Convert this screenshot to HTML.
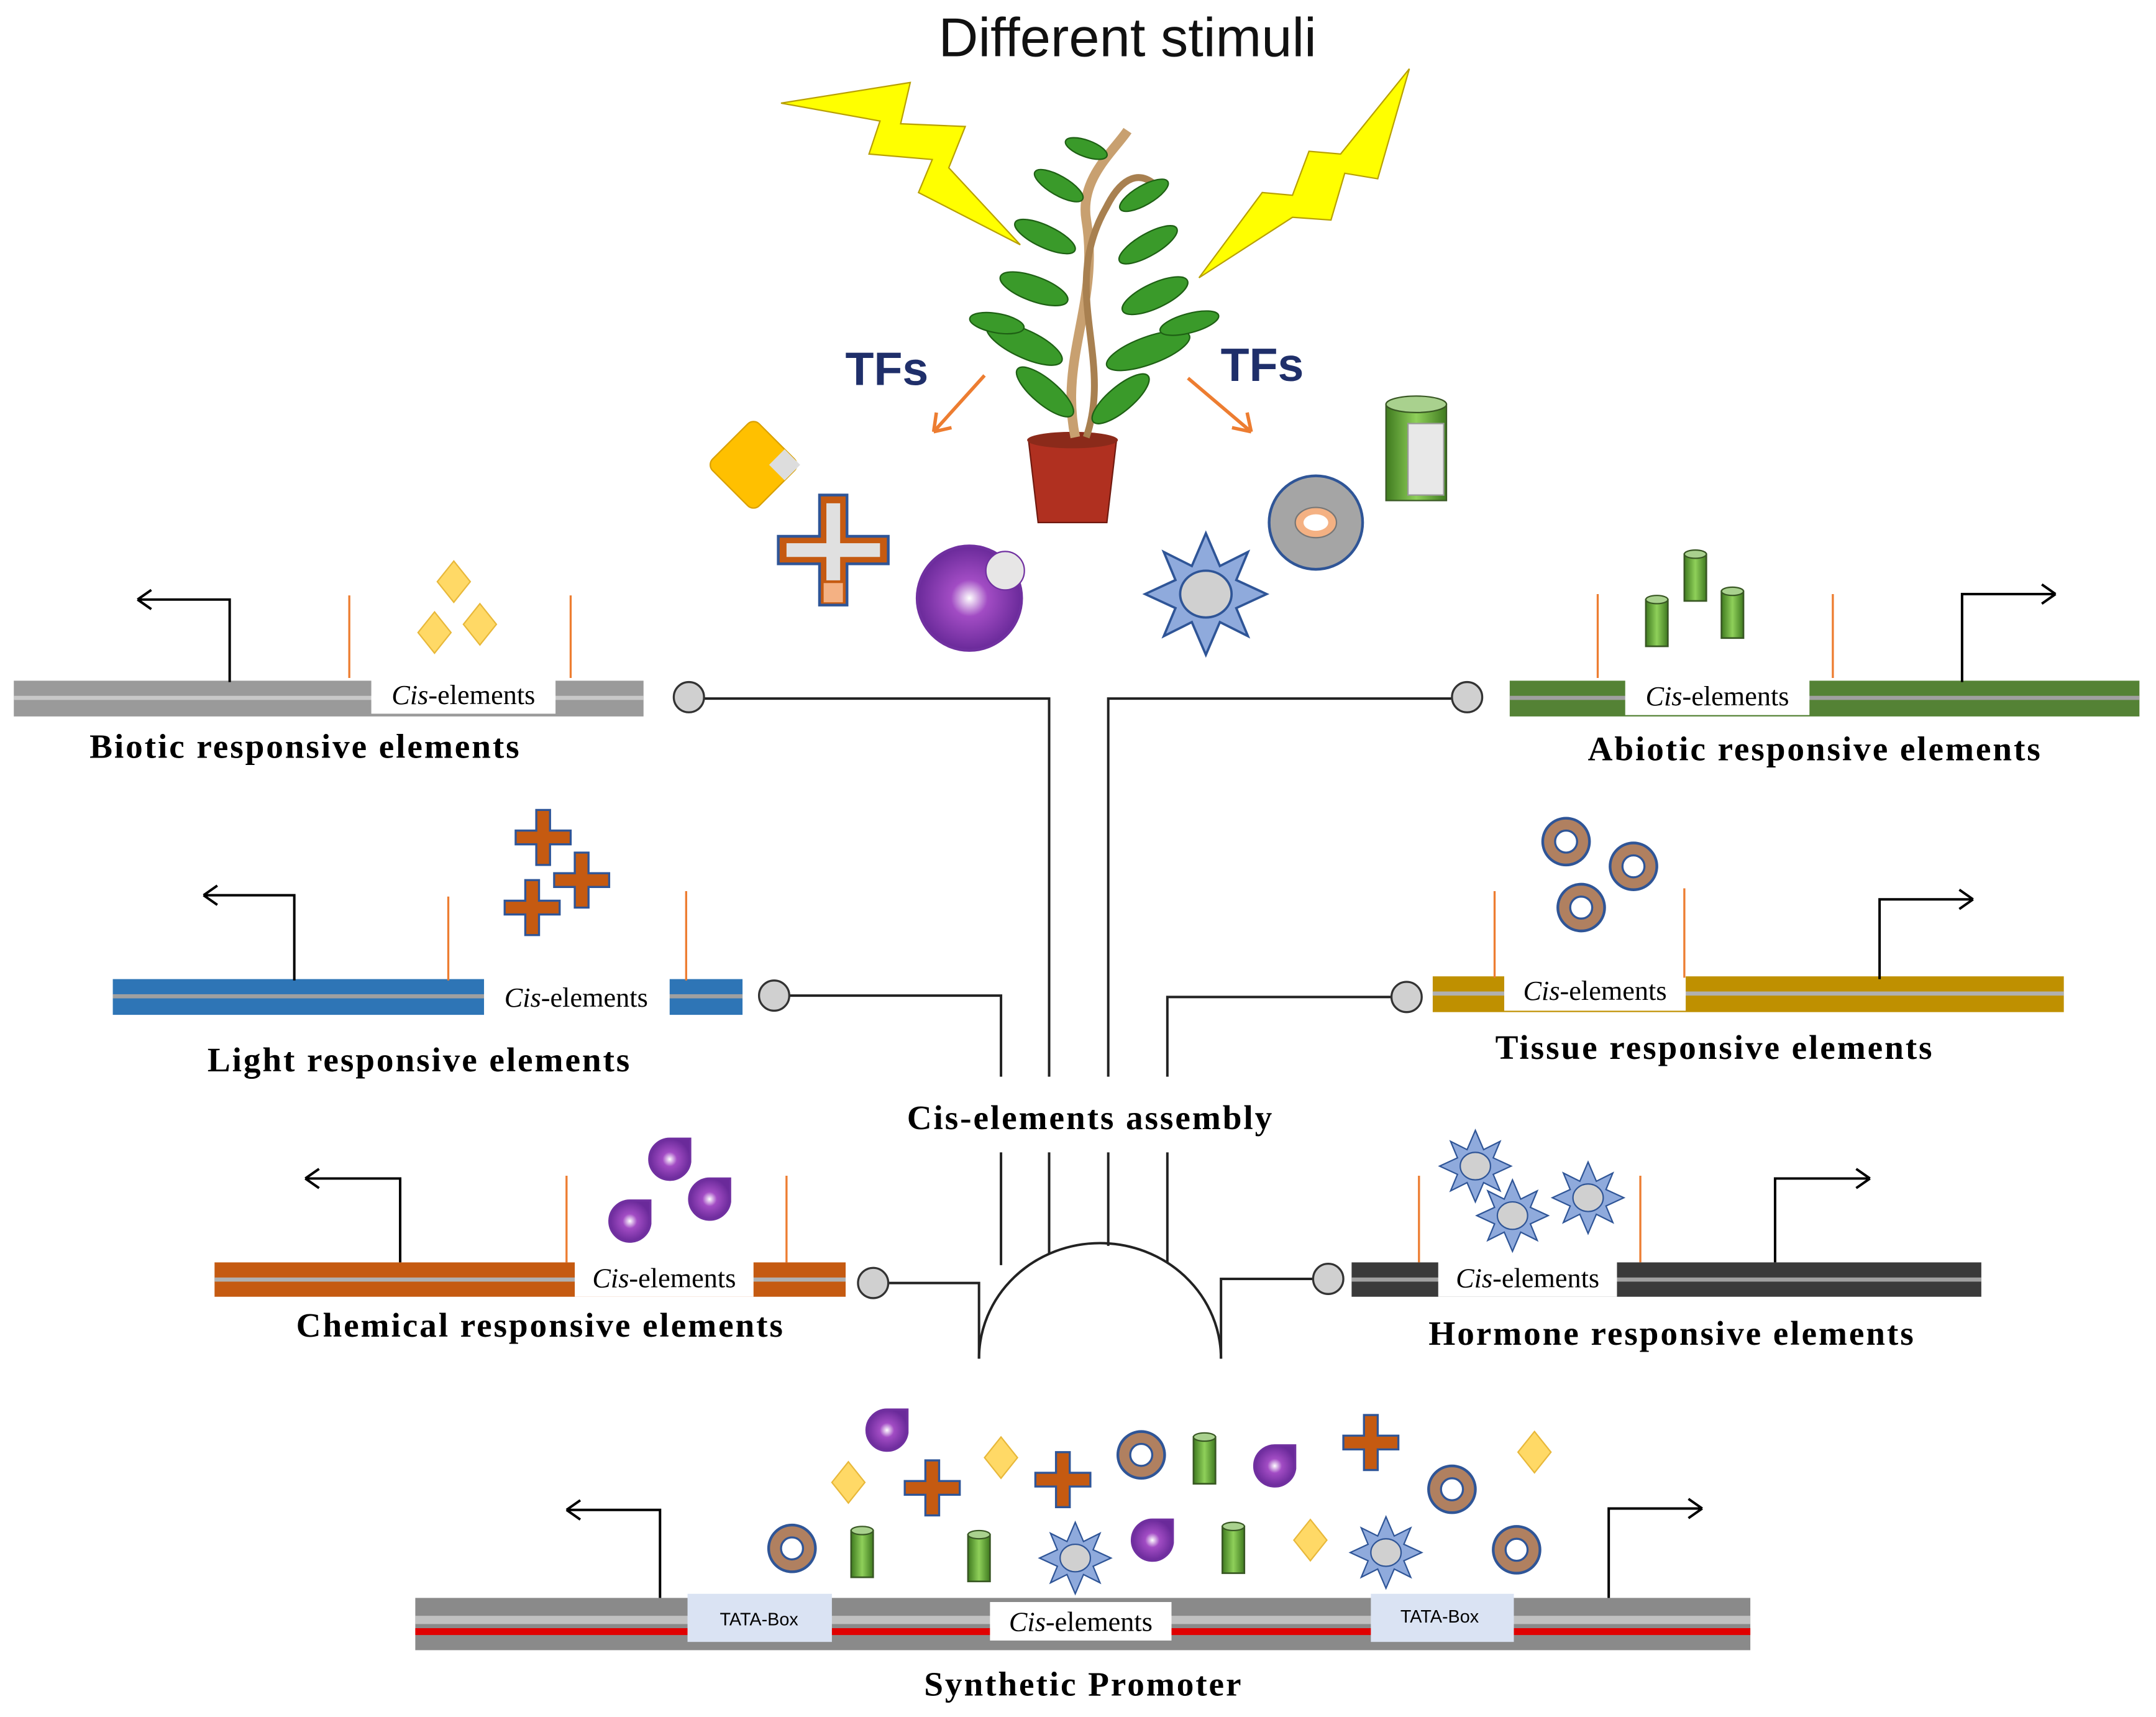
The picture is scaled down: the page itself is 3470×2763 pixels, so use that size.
<!DOCTYPE html>
<html><head><meta charset="utf-8">
<style>
html,body{margin:0;padding:0;background:#fff;}
svg{display:block;}
.lab{font-family:"Liberation Serif",serif;font-weight:bold;font-size:25px;fill:#000;letter-spacing:1.3px;}
.cis{font-family:"Liberation Serif",serif;font-size:20px;fill:#000;}
</style></head>
<body>
<svg width="3470" height="2763" viewBox="0 0 1568 1248.6" xmlns="http://www.w3.org/2000/svg">
<defs>
 <radialGradient id="pg" cx="50%" cy="50%" r="50%"><stop offset="0" stop-color="#fff"/><stop offset="0.35" stop-color="#a24cc4"/><stop offset="1" stop-color="#6a2a9a"/></radialGradient>
 <linearGradient id="cg" x1="0" x2="1"><stop offset="0" stop-color="#3f7a1f"/><stop offset="0.5" stop-color="#8fd05a"/><stop offset="1" stop-color="#3f7a1f"/></linearGradient>
 <g id="dia"><path d="M0,-15 L12,0 L0,15 L-12,0Z" fill="#ffd966" stroke="#e8b83a" stroke-width="1"/></g>
 <g id="crs"><path d="M-5,-20 H5 V-5 H20 V5 H5 V20 H-5 V5 H-20 V-5 H-5Z" fill="#c55a11" stroke="#2f5597" stroke-width="1.5"/></g>
 <g id="tear"><path d="M0,-17 H15 V0 A15,15 0 1 1 0,-17 Z" transform="translate(-2,2)" fill="url(#pg)" stroke="#7030a0" stroke-width="1.5"/></g>
 <g id="ring"><circle r="17" fill="#b08060" stroke="#2f5597" stroke-width="2"/><circle r="8" fill="#fff" stroke="#2f5597" stroke-width="1.5"/></g>
 <g id="cyl"><rect x="-8" y="-17" width="16" height="34" fill="url(#cg)" stroke="#385723" stroke-width="1.2"/><ellipse cx="0" cy="-17" rx="8" ry="3" fill="#a9d18e" stroke="#385723" stroke-width="1"/></g>
 <g id="star"><path d="M0,-26 L6,-12 L18,-18 L13,-6 L26,0 L13,6 L18,18 L6,12 L0,26 L-6,12 L-18,18 L-13,6 L-26,0 L-13,-6 L-18,-18 L-6,-12Z" fill="#8faadc" stroke="#2f5597" stroke-width="1"/><ellipse rx="11" ry="10" fill="#d0d0d0" stroke="#2f5597" stroke-width="1"/></g>
</defs>

<text x="820" y="41" text-anchor="middle" font-family="Liberation Sans,sans-serif" font-size="40" fill="#111">Different stimuli</text>

<!-- lightning -->
<path d="M568,75 L662,60 L655,90 L702,92 L690,122 L742,178 L668,140 L678,116 L632,112 L640,88Z" fill="#ffff00" stroke="#b8a000" stroke-width="1"/>
<path d="M1025,50 L1002,130 L978,126 L968,160 L940,158 L872,202 L918,140 L940,142 L952,110 L975,112Z" fill="#ffff00" stroke="#b8a000" stroke-width="1"/>

<!-- plant -->
<path d="M748,320 L812,320 L805,380 L755,380Z" fill="#b03020" stroke="#701a10"/>
<ellipse cx="780" cy="320" rx="33" ry="6" fill="#8b2a1a"/>
<path d="M782,318 C770,260 800,220 790,160 C785,130 810,110 820,95" stroke="#c8a070" stroke-width="7" fill="none"/>
<path d="M790,318 C810,260 770,210 805,150 C815,130 830,120 845,140" stroke="#a88050" stroke-width="5" fill="none"/>
<g fill="#3a9a2a" stroke="#1e6014" stroke-width="1">
 <ellipse cx="745" cy="250" rx="30" ry="10" transform="rotate(25 745 250)"/>
 <ellipse cx="835" cy="255" rx="32" ry="10" transform="rotate(-20 835 255)"/>
 <ellipse cx="752" cy="210" rx="26" ry="9" transform="rotate(20 752 210)"/>
 <ellipse cx="840" cy="215" rx="26" ry="9" transform="rotate(-25 840 215)"/>
 <ellipse cx="760" cy="172" rx="24" ry="8" transform="rotate(25 760 172)"/>
 <ellipse cx="835" cy="178" rx="24" ry="8" transform="rotate(-30 835 178)"/>
 <ellipse cx="770" cy="135" rx="20" ry="7" transform="rotate(30 770 135)"/>
 <ellipse cx="832" cy="142" rx="20" ry="7" transform="rotate(-30 832 142)"/>
 <ellipse cx="790" cy="108" rx="16" ry="6" transform="rotate(20 790 108)"/>
 <ellipse cx="760" cy="285" rx="26" ry="9" transform="rotate(40 760 285)"/>
 <ellipse cx="815" cy="290" rx="26" ry="9" transform="rotate(-40 815 290)"/>
 <ellipse cx="725" cy="235" rx="20" ry="7" transform="rotate(10 725 235)"/>
 <ellipse cx="865" cy="235" rx="22" ry="7" transform="rotate(-15 865 235)"/>
</g>

<text x="645" y="280" text-anchor="middle" font-family="Liberation Sans,sans-serif" font-weight="bold" font-size="34" fill="#1f2f6a">TFs</text>
<text x="918" y="277" text-anchor="middle" font-family="Liberation Sans,sans-serif" font-weight="bold" font-size="34" fill="#1f2f6a">TFs</text>
<g stroke="#ed7d31" stroke-width="2.5" fill="none">
 <path d="M716,273 L679,314 M679,314 L681,300 M679,314 L692,311"/>
 <path d="M864,275 L910,314 M910,314 L896,311 M910,314 L907,300"/>
</g>

<!-- top icons -->
<g transform="translate(548,338) rotate(45)"><rect x="-24" y="-24" width="48" height="48" rx="6" fill="#ffc000" stroke="#d9a000"/><rect x="8" y="-24" width="16" height="16" fill="#ddd"/></g>
<g transform="translate(606,400)"><path d="M-10,-40 H10 V-10 H40 V10 H10 V40 H-10 V10 H-40 V-10 H-10Z" fill="#c55a11" stroke="#2f5597" stroke-width="2"/><path d="M-5,-34 H5 V-5 H34 V5 H5 V22 H-5 V5 H-34 V-5 H-5Z" fill="#e0e0e0"/><rect x="-7" y="24" width="14" height="14" fill="#f4b183"/></g>
<g transform="translate(705,435)"><circle r="38" fill="url(#pg)" stroke="#7030a0" stroke-width="2"/><circle cx="26" cy="-20" r="14" fill="#e7e6e6" stroke="#7030a0"/></g>
<g transform="translate(877,432) scale(1.7)"><use href="#star"/></g>
<g transform="translate(957,380)"><circle r="34" fill="#a5a5a5" stroke="#2f5597" stroke-width="2"/><ellipse rx="15" ry="11" fill="#f4b183" stroke="#777"/><ellipse rx="9" ry="6" fill="#fff"/></g>
<g transform="translate(1030,328)"><rect x="-22" y="-34" width="44" height="70" fill="url(#cg)" stroke="#385723"/><ellipse cx="0" cy="-34" rx="22" ry="6" fill="#a9d18e" stroke="#385723"/><rect x="-6" y="-20" width="26" height="52" fill="#e8e8e8" stroke="#999"/></g>

<!-- connectors -->
<g stroke="#222" stroke-width="1.8" fill="none">
 <path d="M512,508 H763 V783"/>
 <path d="M1056,508 H806 V783"/>
 <path d="M574,724 H728 V783"/>
 <path d="M1012,725 H849 V783"/>
 <path d="M728,838 V920 M763,838 V912 M806,838 V906 M849,838 V918"/>
 <path d="M712,988 A88,84 0 0 1 888,988"/>
 <path d="M646,933 H712 V988"/>
 <path d="M955,930 H888 V988"/>
</g>
<g fill="#d0d0d0" stroke="#333" stroke-width="1.5">
 <circle cx="501" cy="507" r="11"/><circle cx="1067" cy="507" r="11"/>
 <circle cx="563" cy="724" r="11"/><circle cx="1023" cy="725" r="11"/>
 <circle cx="635" cy="933" r="11"/><circle cx="966" cy="930" r="11"/>
</g>
<text x="793" y="821" text-anchor="middle" class="lab">Cis-elements assembly</text>

<!-- Biotic -->
<rect x="10" y="495" width="458" height="26" fill="#9a9a9a"/><rect x="10" y="506" width="458" height="3" fill="#c8c8c8"/>
<rect x="270" y="491" width="134" height="28" fill="#fff"/><text x="337" y="512" text-anchor="middle" class="cis"><tspan font-style="italic">Cis</tspan>-elements</text>
<path d="M254,433 V493 M415,433 V493" stroke="#ed7d31" stroke-width="1.5"/>
<path d="M167,496 V436 H100 M100,436 L110,429 M100,436 L110,443" stroke="#000" stroke-width="1.8" fill="none"/>
<text x="222" y="551" text-anchor="middle" class="lab">Biotic responsive elements</text>
<use href="#dia" x="330" y="423"/><use href="#dia" x="316" y="460"/><use href="#dia" x="349" y="454"/>

<!-- Abiotic -->
<rect x="1098" y="495" width="458" height="26" fill="#548235"/><rect x="1098" y="506" width="458" height="3" fill="#a0a0a0"/>
<rect x="1182" y="492" width="134" height="28" fill="#fff"/><text x="1249" y="513" text-anchor="middle" class="cis"><tspan font-style="italic">Cis</tspan>-elements</text>
<path d="M1162,432 V493 M1333,432 V493" stroke="#ed7d31" stroke-width="1.5"/>
<path d="M1427,496 V432 H1495 M1495,432 L1485,425 M1495,432 L1485,439" stroke="#000" stroke-width="1.8" fill="none"/>
<text x="1320" y="553" text-anchor="middle" class="lab">Abiotic responsive elements</text>
<use href="#cyl" x="1205" y="453"/><use href="#cyl" x="1233" y="420"/><use href="#cyl" x="1260" y="447"/>

<!-- Light -->
<rect x="82" y="712" width="458" height="26" fill="#2e75b6"/><rect x="82" y="723" width="458" height="3" fill="#a0a0a0"/>
<rect x="352" y="710" width="135" height="29" fill="#fff"/><text x="419" y="732" text-anchor="middle" class="cis"><tspan font-style="italic">Cis</tspan>-elements</text>
<path d="M326,652 V713 M499,648 V713" stroke="#ed7d31" stroke-width="1.5"/>
<path d="M214,713 V651 H148 M148,651 L158,644 M148,651 L158,658" stroke="#000" stroke-width="1.8" fill="none"/>
<text x="305" y="779" text-anchor="middle" class="lab">Light responsive elements</text>
<use href="#crs" x="395" y="609"/><use href="#crs" x="423" y="640"/><use href="#crs" x="387" y="660"/>

<!-- Tissue -->
<rect x="1042" y="710" width="459" height="26" fill="#bf9000"/><rect x="1042" y="721" width="459" height="3" fill="#b0b0b0"/>
<rect x="1094" y="706" width="132" height="29" fill="#fff"/><text x="1160" y="727" text-anchor="middle" class="cis"><tspan font-style="italic">Cis</tspan>-elements</text>
<path d="M1087,648 V711 M1225,646 V711" stroke="#ed7d31" stroke-width="1.5"/>
<path d="M1367,712 V654 H1435 M1435,654 L1425,647 M1435,654 L1425,661" stroke="#000" stroke-width="1.8" fill="none"/>
<text x="1247" y="770" text-anchor="middle" class="lab">Tissue responsive elements</text>
<use href="#ring" x="1139" y="612"/><use href="#ring" x="1188" y="630"/><use href="#ring" x="1150" y="660"/>

<!-- Chemical -->
<rect x="156" y="918" width="459" height="25" fill="#c55a11"/><rect x="156" y="929" width="459" height="3" fill="#b0b0b0"/>
<rect x="418" y="915" width="130" height="28" fill="#fff"/><text x="483" y="936" text-anchor="middle" class="cis"><tspan font-style="italic">Cis</tspan>-elements</text>
<path d="M412,855 V918 M572,855 V918" stroke="#ed7d31" stroke-width="1.5"/>
<path d="M291,918 V857 H222 M222,857 L232,850 M222,857 L232,864" stroke="#000" stroke-width="1.8" fill="none"/>
<text x="393" y="972" text-anchor="middle" class="lab">Chemical responsive elements</text>
<use href="#tear" x="489" y="843"/><use href="#tear" x="518" y="872"/><use href="#tear" x="460" y="888"/>

<!-- Hormone -->
<rect x="983" y="918" width="458" height="25" fill="#3a3a3a"/><rect x="983" y="929" width="458" height="3" fill="#a0a0a0"/>
<rect x="1046" y="915" width="130" height="28" fill="#fff"/><text x="1111" y="936" text-anchor="middle" class="cis"><tspan font-style="italic">Cis</tspan>-elements</text>
<path d="M1032,855 V918 M1193,855 V918" stroke="#ed7d31" stroke-width="1.5"/>
<path d="M1291,918 V857 H1360 M1360,857 L1350,850 M1360,857 L1350,864" stroke="#000" stroke-width="1.8" fill="none"/>
<text x="1216" y="978" text-anchor="middle" class="lab">Hormone responsive elements</text>
<use href="#star" x="1073" y="848"/><use href="#star" x="1100" y="884"/><use href="#star" x="1155" y="871"/>

<!-- Synthetic -->
<rect x="302" y="1162" width="971" height="38" fill="#8a8a8a"/><rect x="302" y="1175" width="971" height="6" fill="#c0c0c0"/><rect x="302" y="1184" width="971" height="5" fill="#e00000"/>
<rect x="500" y="1159" width="105" height="35" fill="#dae3f3"/><text x="552" y="1182" text-anchor="middle" font-family="Liberation Sans,sans-serif" font-size="13">TATA-Box</text>
<rect x="997" y="1159" width="104" height="35" fill="#dae3f3"/><text x="1047" y="1180" text-anchor="middle" font-family="Liberation Sans,sans-serif" font-size="13">TATA-Box</text>
<rect x="720" y="1165" width="132" height="28" fill="#fff"/><text x="786" y="1186" text-anchor="middle" class="cis"><tspan font-style="italic">Cis</tspan>-elements</text>
<path d="M480,1162 V1098 H412 M412,1098 L422,1091 M412,1098 L422,1105" stroke="#000" stroke-width="1.8" fill="none"/>
<path d="M1170,1162 V1097 H1238 M1238,1097 L1228,1090 M1238,1097 L1228,1104" stroke="#000" stroke-width="1.8" fill="none"/>
<text x="788" y="1233" text-anchor="middle" class="lab">Synthetic Promoter</text>

<use href="#tear" x="647" y="1040"/><use href="#crs" x="678" y="1082"/><use href="#dia" x="617" y="1078"/>
<use href="#dia" x="728" y="1060"/><use href="#crs" x="773" y="1076"/><use href="#ring" x="830" y="1058"/>
<use href="#cyl" x="876" y="1062"/><use href="#tear" x="929" y="1066"/><use href="#crs" x="997" y="1049"/>
<use href="#ring" x="1056" y="1083"/><use href="#dia" x="1116" y="1056"/>
<use href="#ring" x="576" y="1126"/><use href="#cyl" x="627" y="1130"/><use href="#cyl" x="712" y="1133"/>
<use href="#star" x="782" y="1133"/><use href="#tear" x="840" y="1120"/><use href="#cyl" x="897" y="1127"/>
<use href="#dia" x="953" y="1120"/><use href="#star" x="1008" y="1129"/><use href="#ring" x="1103" y="1127"/>
</svg>
</body></html>
